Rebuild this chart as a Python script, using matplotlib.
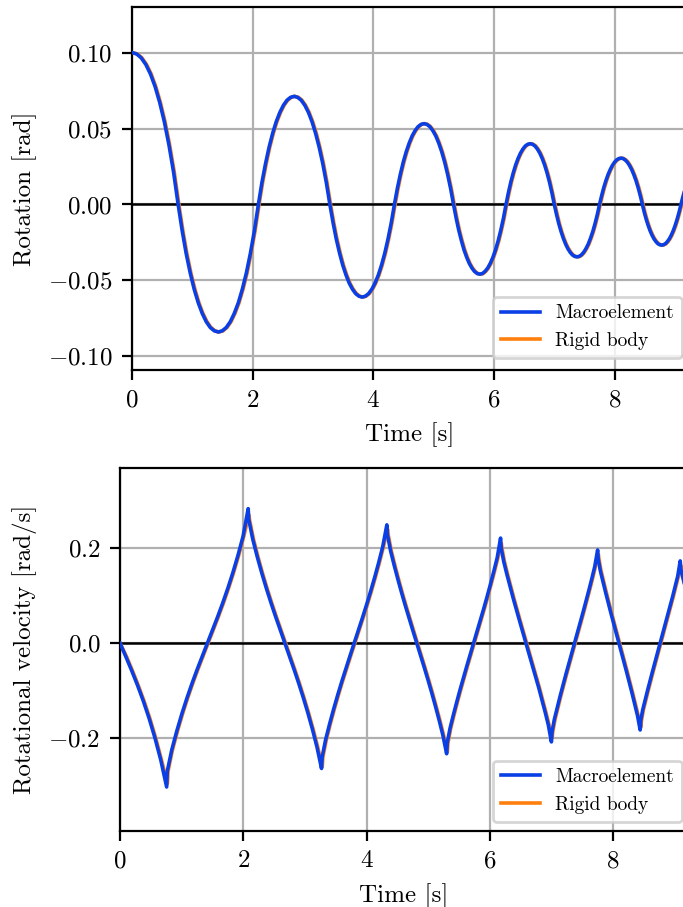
import matplotlib
matplotlib.use("Agg")
import matplotlib.pyplot as plt

# Computer Modern look (like the LaTeX figure)
plt.rcParams['font.family'] = 'serif'
plt.rcParams['font.serif'] = ['cmr10']
plt.rcParams['mathtext.fontset'] = 'cm'
plt.rcParams['axes.formatter.use_mathtext'] = True
plt.rcParams['axes.unicode_minus'] = True
plt.rcParams['font.size'] = 9

# ---- rotation [rad] ----
t_rot_me = [0.0, 0.077, 0.153, 0.230, 0.306, 0.383, 0.459, 0.536, 0.612, 0.689, 0.765,
            0.832, 0.898, 0.965, 1.031, 1.098, 1.164, 1.231, 1.297, 1.364, 1.430,
            1.497, 1.563, 1.630, 1.696, 1.763, 1.829, 1.896, 1.962, 2.029, 2.095,
            2.154, 2.214, 2.273, 2.332, 2.391, 2.451, 2.510, 2.569, 2.628, 2.688,
            2.747, 2.806, 2.865, 2.925, 2.984, 3.043, 3.102, 3.162, 3.221, 3.280,
            3.334, 3.387, 3.441, 3.494, 3.548, 3.601, 3.655, 3.708, 3.762, 3.815,
            3.869, 3.922, 3.976, 4.029, 4.083, 4.136, 4.190, 4.243, 4.297, 4.350,
            4.399, 4.448, 4.497, 4.546, 4.595, 4.644, 4.693, 4.742, 4.791, 4.840,
            4.889, 4.938, 4.987, 5.036, 5.085, 5.134, 5.183, 5.232, 5.281, 5.330,
            5.374, 5.417, 5.461, 5.504, 5.548, 5.591, 5.635, 5.678, 5.722, 5.765,
            5.809, 5.852, 5.896, 5.939, 5.983, 6.026, 6.070, 6.113, 6.157, 6.200,
            6.240, 6.280, 6.320, 6.360, 6.400, 6.440, 6.480, 6.520, 6.560, 6.600,
            6.640, 6.680, 6.720, 6.760, 6.800, 6.840, 6.880, 6.920, 6.960, 7.000,
            7.038, 7.075, 7.113, 7.150, 7.188, 7.225, 7.263, 7.300, 7.338, 7.375,
            7.413, 7.450, 7.488, 7.525, 7.563, 7.600, 7.638, 7.675, 7.713, 7.750,
            7.786, 7.821, 7.857, 7.892, 7.928, 7.963, 7.999, 8.034, 8.070, 8.105,
            8.141, 8.176, 8.212, 8.247, 8.283, 8.318, 8.354, 8.389, 8.425, 8.460,
            8.492, 8.524, 8.556, 8.588, 8.620, 8.652, 8.684, 8.716, 8.748, 8.780,
            8.812, 8.844, 8.876, 8.908, 8.940, 8.972, 9.004, 9.036, 9.068, 9.100,
            9.130, 9.160, 9.190, 9.220]
t_rot_rb = [0.0, 0.089, 0.165, 0.242, 0.318, 0.395, 0.471, 0.548, 0.624, 0.701, 0.777,
            0.844, 0.910, 0.977, 1.043, 1.110, 1.176, 1.243, 1.309, 1.376, 1.442,
            1.509, 1.575, 1.642, 1.708, 1.775, 1.841, 1.908, 1.974, 2.041, 2.107,
            2.166, 2.226, 2.285, 2.344, 2.403, 2.463, 2.522, 2.581, 2.640, 2.700,
            2.759, 2.818, 2.877, 2.937, 2.996, 3.055, 3.114, 3.174, 3.233, 3.292,
            3.346, 3.399, 3.453, 3.506, 3.560, 3.613, 3.667, 3.720, 3.774, 3.827,
            3.881, 3.934, 3.988, 4.041, 4.095, 4.148, 4.202, 4.255, 4.309, 4.362,
            4.411, 4.460, 4.509, 4.558, 4.607, 4.656, 4.705, 4.754, 4.803, 4.852,
            4.901, 4.950, 4.999, 5.048, 5.097, 5.146, 5.195, 5.244, 5.293, 5.342,
            5.386, 5.429, 5.473, 5.516, 5.560, 5.603, 5.647, 5.690, 5.734, 5.777,
            5.821, 5.864, 5.908, 5.951, 5.995, 6.038, 6.082, 6.125, 6.169, 6.212,
            6.252, 6.292, 6.332, 6.372, 6.412, 6.452, 6.492, 6.532, 6.572, 6.612,
            6.652, 6.692, 6.732, 6.772, 6.812, 6.852, 6.892, 6.932, 6.972, 7.012,
            7.050, 7.087, 7.125, 7.162, 7.200, 7.237, 7.275, 7.312, 7.350, 7.387,
            7.425, 7.462, 7.500, 7.537, 7.575, 7.612, 7.650, 7.687, 7.725, 7.762,
            7.798, 7.833, 7.869, 7.904, 7.940, 7.975, 8.011, 8.046, 8.082, 8.117,
            8.153, 8.188, 8.224, 8.259, 8.295, 8.330, 8.366, 8.401, 8.437, 8.472,
            8.504, 8.536, 8.568, 8.600, 8.632, 8.664, 8.696, 8.728, 8.760, 8.792,
            8.824, 8.856, 8.888, 8.920, 8.952, 8.984, 9.016, 9.048, 9.080, 9.112,
            9.142, 9.172, 9.202, 9.232]
rot_vals = [0.1000, 0.0991, 0.0965, 0.0921, 0.0859, 0.0776, 0.0672, 0.0545, 0.0393, 0.0213, 0.0,
            -0.0173, -0.0323, -0.0451, -0.0558, -0.0647, -0.0717, -0.0772, -0.0810, -0.0832, -0.0840,
            -0.0832, -0.0810, -0.0772, -0.0717, -0.0647, -0.0558, -0.0451, -0.0323, -0.0173, 0.0,
            0.0145, 0.0270, 0.0378, 0.0469, 0.0545, 0.0606, 0.0653, 0.0686, 0.0705, 0.0712,
            0.0705, 0.0686, 0.0653, 0.0606, 0.0545, 0.0469, 0.0378, 0.0270, 0.0145, 0.0,
            -0.0122, -0.0229, -0.0321, -0.0400, -0.0465, -0.0518, -0.0558, -0.0587, -0.0604, -0.0610,
            -0.0604, -0.0587, -0.0558, -0.0518, -0.0465, -0.0400, -0.0321, -0.0229, -0.0122, 0.0,
            0.0106, 0.0198, 0.0279, 0.0347, 0.0404, 0.0451, 0.0486, 0.0512, 0.0527, 0.0532,
            0.0527, 0.0512, 0.0486, 0.0451, 0.0404, 0.0347, 0.0279, 0.0198, 0.0106, 0.0,
            -0.0091, -0.0170, -0.0239, -0.0299, -0.0348, -0.0388, -0.0419, -0.0441, -0.0455, -0.0459,
            -0.0455, -0.0441, -0.0419, -0.0388, -0.0348, -0.0299, -0.0239, -0.0170, -0.0091, 0.0,
            0.0078, 0.0148, 0.0208, 0.0260, 0.0303, 0.0338, 0.0365, 0.0385, 0.0396, 0.0400,
            0.0396, 0.0385, 0.0365, 0.0338, 0.0303, 0.0260, 0.0208, 0.0148, 0.0078, 0.0,
            -0.0067, -0.0127, -0.0179, -0.0223, -0.0261, -0.0291, -0.0315, -0.0332, -0.0342, -0.0345,
            -0.0342, -0.0332, -0.0315, -0.0291, -0.0261, -0.0223, -0.0179, -0.0127, -0.0067, 0.0,
            0.0059, 0.0112, 0.0158, 0.0197, 0.0230, 0.0257, 0.0278, 0.0293, 0.0302, 0.0305,
            0.0302, 0.0293, 0.0278, 0.0257, 0.0230, 0.0197, 0.0158, 0.0112, 0.0059, 0.0,
            -0.0052, -0.0098, -0.0138, -0.0173, -0.0202, -0.0226, -0.0244, -0.0258, -0.0265, -0.0268,
            -0.0265, -0.0258, -0.0244, -0.0226, -0.0202, -0.0173, -0.0138, -0.0098, -0.0052, 0.0,
            0.0048, 0.0091, 0.0129, 0.0161]

# ---- rotational velocity [rad/s] ----
t_vel_me = [0.0, 0.0946, 0.1893, 0.2839, 0.3785, 0.4731, 0.5678, 0.6624, 0.757,
            0.767, 0.8397, 0.9224, 1.0051, 1.0878, 1.1704, 1.2531, 1.3358, 1.4185,
            1.5012, 1.5839, 1.6666, 1.7493, 1.8319, 1.9146, 1.9973, 2.080,
            2.090, 2.1544, 2.2288, 2.3031, 2.3775, 2.4519, 2.5263, 2.6006, 2.675,
            2.7494, 2.8238, 2.8981, 2.9725, 3.0469, 3.1213, 3.1956, 3.270,
            3.280, 3.3363, 3.4025, 3.4688, 3.535, 3.6013, 3.6675, 3.7338, 3.800,
            3.8663, 3.9325, 3.9988, 4.065, 4.1313, 4.1975, 4.2638, 4.330,
            4.340, 4.3906, 4.4513, 4.5119, 4.5725, 4.6331, 4.6938, 4.7544, 4.815,
            4.8756, 4.9363, 4.9969, 5.0575, 5.1181, 5.1788, 5.2394, 5.300,
            5.310, 5.3547, 5.4094, 5.4641, 5.5188, 5.5734, 5.6281, 5.6828, 5.7375,
            5.7922, 5.8469, 5.9016, 5.9563, 6.0109, 6.0656, 6.1203, 6.175,
            6.185, 6.2266, 6.2781, 6.3297, 6.3813, 6.4328, 6.4844, 6.5359, 6.5875,
            6.6391, 6.6906, 6.7422, 6.7938, 6.8453, 6.8969, 6.9484, 7.000,
            7.010, 7.0469, 7.0938, 7.1406, 7.1875, 7.2344, 7.2813, 7.3281, 7.375,
            7.4219, 7.4688, 7.5156, 7.5625, 7.6094, 7.6563, 7.7031, 7.750,
            7.760, 7.7931, 7.8363, 7.8794, 7.9225, 7.9656, 8.0088, 8.0519, 8.095,
            8.1381, 8.1813, 8.2244, 8.2675, 8.3106, 8.3538, 8.3969, 8.440,
            8.450, 8.4806, 8.5213, 8.5619, 8.6025, 8.6431, 8.6838, 8.7244, 8.765,
            8.8056, 8.8463, 8.8869, 8.9275, 8.9681, 9.0088, 9.0494, 9.090,
            9.100, 9.1388, 9.1775, 9.2163]
vel_me = [0.0, -0.0285, -0.0578, -0.0887, -0.1220, -0.1587, -0.1999, -0.2465, -0.303,
          -0.270, -0.2250, -0.1848, -0.1484, -0.1152, -0.0843, -0.0552, -0.0273, 0.0,
          0.0273, 0.0552, 0.0843, 0.1152, 0.1484, 0.1848, 0.2250, 0.283,
          0.260, 0.2186, 0.1809, 0.1463, 0.1142, 0.0840, 0.0552, 0.0274, 0.0,
          -0.0274, -0.0552, -0.0840, -0.1142, -0.1463, -0.1809, -0.2186, -0.264,
          -0.240, -0.2034, -0.1695, -0.1379, -0.1082, -0.0799, -0.0527, -0.0262, 0.0,
          0.0262, 0.0527, 0.0799, 0.1082, 0.1379, 0.1695, 0.2034, 0.249,
          0.228, 0.1942, 0.1626, 0.1328, 0.1044, 0.0773, 0.0511, 0.0254, 0.0,
          -0.0254, -0.0511, -0.0773, -0.1044, -0.1328, -0.1626, -0.1942, -0.233,
          -0.210, -0.1797, -0.1511, -0.1239, -0.0977, -0.0725, -0.0480, -0.0239, 0.0,
          0.0239, 0.0480, 0.0725, 0.0977, 0.1239, 0.1511, 0.1797, 0.221,
          0.200, 0.1716, 0.1445, 0.1187, 0.0938, 0.0697, 0.0462, 0.0230, 0.0,
          -0.0230, -0.0462, -0.0697, -0.0938, -0.1187, -0.1445, -0.1716, -0.208,
          -0.187, -0.1610, -0.1360, -0.1120, -0.0887, -0.0660, -0.0438, -0.0218, 0.0,
          0.0218, 0.0438, 0.0660, 0.0887, 0.1120, 0.1360, 0.1610, 0.196,
          0.177, 0.1527, 0.1293, 0.1067, 0.0846, 0.0630, 0.0418, 0.0209, 0.0,
          -0.0209, -0.0418, -0.0630, -0.0846, -0.1067, -0.1293, -0.1527, -0.183,
          -0.163, -0.1409, -0.1194, -0.0986, -0.0783, -0.0584, -0.0388, -0.0193, 0.0,
          0.0193, 0.0388, 0.0584, 0.0783, 0.0986, 0.1194, 0.1409, 0.173,
          0.155, 0.1342, 0.1139, 0.0941]

t_vel_rb = [0.0, 0.1066, 0.2013, 0.2959, 0.3905, 0.4851, 0.5798, 0.6744, 0.769,
            0.779, 0.8517, 0.9344, 1.0171, 1.0998, 1.1824, 1.2651, 1.3478, 1.4305,
            1.5132, 1.5959, 1.6786, 1.7613, 1.8439, 1.9266, 2.0093, 2.092,
            2.102, 2.1664, 2.2408, 2.3151, 2.3895, 2.4639, 2.5383, 2.6126, 2.687,
            2.7614, 2.8358, 2.9101, 2.9845, 3.0589, 3.1333, 3.2076, 3.282,
            3.292, 3.3483, 3.4145, 3.4808, 3.547, 3.6133, 3.6795, 3.7458, 3.812,
            3.8783, 3.9445, 4.0108, 4.077, 4.1433, 4.2095, 4.2758, 4.342,
            4.352, 4.4026, 4.4633, 4.5239, 4.5845, 4.6451, 4.7058, 4.7664, 4.827,
            4.8876, 4.9483, 5.0089, 5.0695, 5.1301, 5.1908, 5.2514, 5.312,
            5.322, 5.3667, 5.4214, 5.4761, 5.5308, 5.5854, 5.6401, 5.6948, 5.7495,
            5.8042, 5.8589, 5.9136, 5.9683, 6.0229, 6.0776, 6.1323, 6.187,
            6.197, 6.2386, 6.2901, 6.3417, 6.3933, 6.4448, 6.4964, 6.5479, 6.5995,
            6.6511, 6.7026, 6.7542, 6.8058, 6.8573, 6.9089, 6.9604, 7.012,
            7.022, 7.0589, 7.1058, 7.1526, 7.1995, 7.2464, 7.2933, 7.3401, 7.387,
            7.4339, 7.4808, 7.5276, 7.5745, 7.6214, 7.6683, 7.7151, 7.762,
            7.772, 7.8051, 7.8483, 7.8914, 7.9345, 7.9776, 8.0208, 8.0639, 8.107,
            8.1501, 8.1933, 8.2364, 8.2795, 8.3226, 8.3658, 8.4089, 8.452,
            8.462, 8.4926, 8.5333, 8.5739, 8.6145, 8.6551, 8.6958, 8.7364, 8.777,
            8.8176, 8.8583, 8.8989, 8.9395, 8.9801, 9.0208, 9.0614, 9.102,
            9.112, 9.1508, 9.1895, 9.2283]
vel_rb = [0.0, -0.0285, -0.0578, -0.0887, -0.1220, -0.1587, -0.1999, -0.2465, -0.296,
          -0.270, -0.2250, -0.1848, -0.1484, -0.1152, -0.0843, -0.0552, -0.0273, 0.0,
          0.0273, 0.0552, 0.0843, 0.1152, 0.1484, 0.1848, 0.2250, 0.270,
          0.260, 0.2186, 0.1809, 0.1463, 0.1142, 0.0840, 0.0552, 0.0274, 0.0,
          -0.0274, -0.0552, -0.0840, -0.1142, -0.1463, -0.1809, -0.2186, -0.260,
          -0.240, -0.2034, -0.1695, -0.1379, -0.1082, -0.0799, -0.0527, -0.0262, 0.0,
          0.0262, 0.0527, 0.0799, 0.1082, 0.1379, 0.1695, 0.2034, 0.240,
          0.228, 0.1942, 0.1626, 0.1328, 0.1044, 0.0773, 0.0511, 0.0254, 0.0,
          -0.0254, -0.0511, -0.0773, -0.1044, -0.1328, -0.1626, -0.1942, -0.228,
          -0.210, -0.1797, -0.1511, -0.1239, -0.0977, -0.0725, -0.0480, -0.0239, 0.0,
          0.0239, 0.0480, 0.0725, 0.0977, 0.1239, 0.1511, 0.1797, 0.210,
          0.200, 0.1716, 0.1445, 0.1187, 0.0938, 0.0697, 0.0462, 0.0230, 0.0,
          -0.0230, -0.0462, -0.0697, -0.0938, -0.1187, -0.1445, -0.1716, -0.200,
          -0.187, -0.1610, -0.1360, -0.1120, -0.0887, -0.0660, -0.0438, -0.0218, 0.0,
          0.0218, 0.0438, 0.0660, 0.0887, 0.1120, 0.1360, 0.1610, 0.187,
          0.177, 0.1527, 0.1293, 0.1067, 0.0846, 0.0630, 0.0418, 0.0209, 0.0,
          -0.0209, -0.0418, -0.0630, -0.0846, -0.1067, -0.1293, -0.1527, -0.177,
          -0.163, -0.1409, -0.1194, -0.0986, -0.0783, -0.0584, -0.0388, -0.0193, 0.0,
          0.0193, 0.0388, 0.0584, 0.0783, 0.0986, 0.1194, 0.1409, 0.163,
          0.155, 0.1342, 0.1139, 0.0941]

labels = ['Macroelement', 'Rigid body']
c_me = '#0a3fe6'
c_rb = '#ff7f0e'

W, H = 683, 907
fig = plt.figure(figsize=(W / 200, H / 200), dpi=200)

# axes placed in pixel units, right edge runs just past the figure
ax1 = fig.add_axes([132 / W, (H - 370) / H, (687 - 132) / W, (370 - 7) / H])
ax2 = fig.add_axes([120 / W, (H - 830.7) / H, (687 - 120) / W, (830.7 - 468.3) / H])


def draw(ax, t_me, y_me, t_rb, y_rb, ylabel, ylim, yticks, legend_bottom):
    l_rb, = ax.plot(t_rb, y_rb, color=c_rb, lw=1.3, zorder=2,
                    solid_joinstyle='round')
    l_me, = ax.plot(t_me, y_me, color=c_me, lw=1.3, zorder=3,
                    solid_joinstyle='round')
    ax.axhline(0, color='k', lw=0.9, zorder=1)
    ax.grid(True, color='#b0b0b0', lw=0.8)
    ax.set_axisbelow(True)
    ax.set_xlim(0, 9.2)
    ax.set_ylim(*ylim)
    ax.set_xticks([0, 2, 4, 6, 8])
    ax.set_yticks(yticks)
    ax.set_xlabel('Time [s]')
    ax.set_ylabel(ylabel)
    ax.legend([l_me, l_rb], labels, loc='lower right', fontsize=7,
              bbox_to_anchor=(682 / W, (H - legend_bottom) / H),
              bbox_transform=fig.transFigure, borderaxespad=0)


draw(ax1, t_rot_me, rot_vals, t_rot_rb, rot_vals, 'Rotation [rad]',
     (-0.109, 0.130), [-0.10, -0.05, 0.0, 0.05, 0.10], 358)
draw(ax2, t_vel_me, vel_me, t_vel_rb, vel_rb, 'Rotational velocity [rad/s]',
     (-0.395, 0.368), [-0.2, 0.0, 0.2], 821.7)

fig.savefig('out.png', dpi=200)
